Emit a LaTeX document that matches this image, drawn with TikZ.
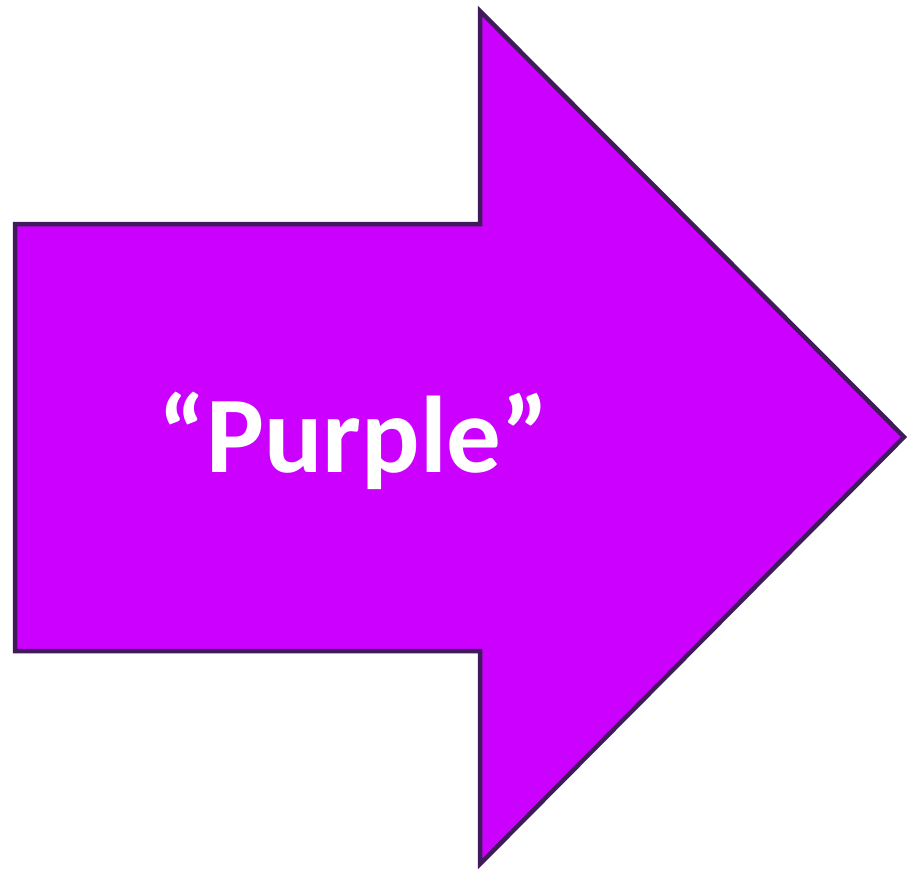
\documentclass[tikz,border=0pt]{standalone}
\usepackage{fontspec}
\setmainfont{Carlito}
\definecolor{arrowfill}{HTML}{CC00FF}
\definecolor{arrowline}{HTML}{3F1B5C}
\begin{document}
\begin{tikzpicture}[x=1pt,y=-1pt,
  arrowshape/.style={fill=arrowfill,draw=arrowline,line width=4.5pt,line join=miter},
  label/.style={text=white,font=\fontsize{109}{120}\selectfont\bfseries,inner sep=0pt,anchor=base}]
\useasboundingbox (0,0) rectangle (907,872);
\draw[arrowshape] (15,224) -- (480,224) -- (480,11) -- (904,437) -- (480,864) -- (480,651) -- (15,651) -- cycle;
\node[label] (t) at (354,472) {“Purple”};
\end{tikzpicture}
\end{document}
